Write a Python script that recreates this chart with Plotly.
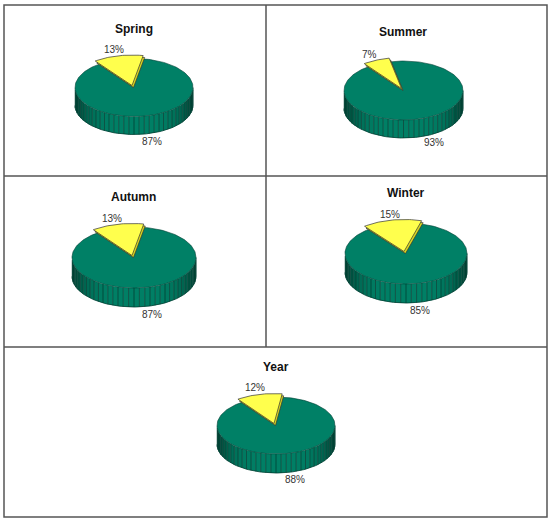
"""Seasonal share pies drawn as tilted 3D discs in one pixel-sized axis."""
import numpy as np
import plotly.graph_objects as go

SEASONS = ["Spring", "Summer", "Autumn", "Winter", "Year"]
SMALL_SHARE = [13, 7, 13, 15, 12]
LARGE_SHARE = [87, 93, 87, 85, 88]

# pie placement, in page pixels
CENTERS = [(134, 87.5), (403.5, 90.5), (134, 257.5), (406, 253.5), (276, 425.5)]
RADII = [(59, 29), (59.5, 29.5), (62, 30.5), (61, 30.5), (59, 28.5)]
DEPTHS = [18, 18, 19, 19, 19]
SLICE_MIDDLE = [-13, -24, -13, -11, -14]
TITLE_POS = [(134, 29), (403, 32), (133, 197), (406, 193), (276, 367)]
SMALL_POS = [(114, 49), (369, 54), (112, 218), (390, 214), (255, 387)]
LARGE_POS = [(152, 141), (434, 142), (152, 314), (420, 310), (295, 479)]

GREEN = "#008066"
GREEN_DARK = "#004034"
YELLOW = "#ffff4d"
YELLOW_SIDE = "#d8d820"
OUTLINE = "#333333"
BORDER = "#555555"
FONT = "Liberation Sans"

fig = go.Figure()


def polygon(xs, ys, fill, line_color=None, line_width=0.7):
    fig.add_trace(go.Scatter(
        x=xs, y=ys, mode="lines", fill="toself", fillcolor=fill,
        line=dict(color=line_color or fill, width=line_width),
        hoverinfo="skip", showlegend=False,
    ))


def shade(angle):
    # darker toward the two ends of the visible rim
    t = abs(np.sin(np.radians(angle))) ** 4
    base = np.array([0, 128, 102])
    dark = np.array([0, 62, 48])
    r, g, b = (base * (1 - t) + dark * t).astype(int)
    return f"rgb({r},{g},{b})"


def draw_pie(center, radii, depth, middle, share):
    cx, cy = center
    rx, ry = radii

    # rim strips, angle measured clockwise from the top of the ellipse
    edges = np.arange(90, 271, 5)
    for a0, a1 in zip(edges[:-1], edges[1:]):
        arc = np.radians(np.linspace(a0, a1, 4))
        xs = cx + rx * np.sin(arc)
        ys = cy - ry * np.cos(arc)
        polygon(
            np.r_[xs, xs[::-1], xs[0]], np.r_[ys, ys[::-1] + depth, ys[0]],
            shade((a0 + a1) / 2), line_width=0,
        )
        fig.add_trace(go.Scatter(
            x=[xs[0], xs[0]], y=[ys[0], ys[0] + depth], mode="lines",
            line=dict(color=GREEN_DARK, width=0.8), hoverinfo="skip", showlegend=False,
        ))

    # dark lower edge of the rim
    arc = np.radians(np.linspace(90, 270, 91))
    fig.add_trace(go.Scatter(
        x=cx + rx * np.sin(arc), y=cy - ry * np.cos(arc) + depth, mode="lines",
        line=dict(color=GREEN_DARK, width=0.8), hoverinfo="skip", showlegend=False,
    ))

    t = np.radians(np.linspace(0, 360, 181))
    polygon(cx + rx * np.sin(t), cy - ry * np.cos(t), GREEN, GREEN_DARK, 0.6)

    # raised slice: a lower copy shows as the thin band along the cut edges
    sweep = share * 3.6
    arc = np.radians(np.linspace(middle - sweep / 2, middle + sweep / 2, 30))
    wx = 1.05 * rx * np.sin(arc)
    wy = -1.05 * ry * np.cos(arc)
    polygon(np.r_[cx - 0.5, cx - 0.5 + wx, cx - 0.5], np.r_[cy, cy + wy, cy],
            YELLOW_SIDE, OUTLINE, 0.7)
    polygon(np.r_[cx - 2, cx - 2 + wx, cx - 2], np.r_[cy - 2, cy - 2 + wy, cy - 2],
            YELLOW, OUTLINE, 0.7)


for i, season in enumerate(SEASONS):
    draw_pie(CENTERS[i], RADII[i], DEPTHS[i], SLICE_MIDDLE[i], SMALL_SHARE[i])
    fig.add_annotation(x=TITLE_POS[i][0], y=TITLE_POS[i][1], text=f"<b>{season}</b>",
                       showarrow=False, font=dict(family=FONT, size=12, color="#111111"))
    fig.add_annotation(x=SMALL_POS[i][0], y=SMALL_POS[i][1], text=f"{SMALL_SHARE[i]}%",
                       showarrow=False, font=dict(family=FONT, size=10, color="#333333"))
    fig.add_annotation(x=LARGE_POS[i][0], y=LARGE_POS[i][1], text=f"{LARGE_SHARE[i]}%",
                       showarrow=False, font=dict(family=FONT, size=10, color="#333333"))

# table frame
for x0, y0, x1, y1 in [(4, 5, 547, 517), (266, 5, 266, 347), (4, 176, 547, 176), (4, 347, 547, 347)]:
    fig.add_shape(type="rect" if x0 != x1 and y0 != y1 else "line",
                  x0=x0, y0=y0, x1=x1, y1=y1, line=dict(color=BORDER, width=1.5))

fig.update_layout(
    width=550, height=521, margin=dict(l=0, r=0, t=0, b=0),
    paper_bgcolor="white", plot_bgcolor="white", showlegend=False,
    xaxis=dict(range=[0, 550], visible=False, fixedrange=True),
    yaxis=dict(range=[521, 0], visible=False, fixedrange=True),
)

# the page's default body margin would push the fixed-size figure out of the window
fig.write_html("out.html", config={"displayModeBar": False},
               post_script="document.body.style.margin='0';")
